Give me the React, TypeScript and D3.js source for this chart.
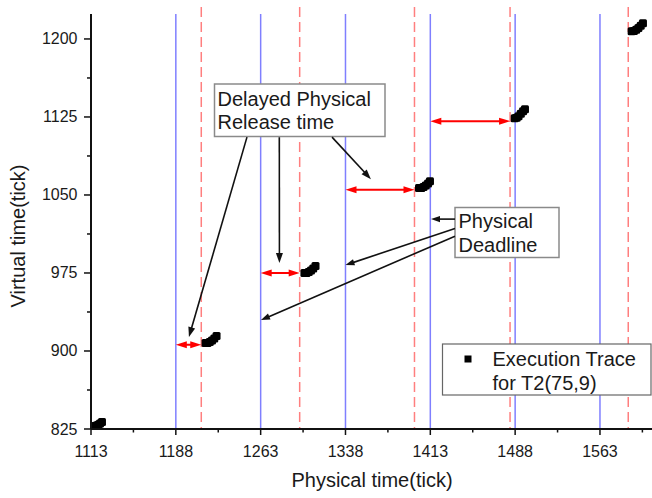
import React from "react";
import * as d3 from "d3";

// ---- data ----
const xTicks = [1113, 1188, 1263, 1338, 1413, 1488, 1563];
const xMinorTicks = [1150.5, 1225.5, 1300.5, 1375.5, 1450.5, 1525.5, 1600.5];
const yTicks = [825, 900, 975, 1050, 1125, 1200];
const yMinorTicks = [862.5, 937.5, 1012.5, 1087.5, 1162.5];

// blue solid lines (physical deadlines)
const physicalDeadlines = [1188, 1263, 1338, 1413, 1488, 1563];
// red dashed lines (delayed physical release times)
const delayedReleases = [1210.5, 1297.5, 1399, 1483.5, 1588];

// red double arrows: release delay at a virtual time level
const delayFrom = [1188, 1263, 1338, 1413];
const delayTo = [1210.5, 1297.5, 1399, 1483.5];
const delayLevel = [906, 975, 1055, 1121];

// execution trace of T2(75,9): [physical tick, virtual tick]
const trace1 = [[1116.5, 828], [1118, 828.3], [1119.5, 829], [1121, 830.3], [1122.7, 831.7]];
const trace2 = [[1214.3, 907.6], [1216, 907.8], [1218, 908.6], [1220, 910], [1222, 912], [1224, 914.4]];
const trace3 = [[1301.7, 974.9], [1303.5, 975.1], [1305.5, 975.9], [1307.5, 977.3], [1309.5, 979.3], [1311.5, 981.6]];
const trace4 = [[1403, 1056.6], [1405, 1056.8], [1407, 1057.6], [1409, 1059], [1411, 1061], [1412.7, 1063.3]];
const trace5 = [[1487.6, 1123.8], [1489.3, 1124.3], [1491, 1125.8], [1493, 1128], [1495, 1130.5], [1496.7, 1132.5]];
const trace6 = [[1591, 1207.4], [1593, 1207.7], [1595, 1208.8], [1597, 1210.6], [1599, 1212.8], [1601, 1215.1]];
const traces = [trace1, trace2, trace3, trace4, trace5, trace6];

// annotation arrows (data coordinates): from -> to
const releaseArrowFrom = [[1250.9, 1105.6], [1279.5, 1105.6], [1326.1, 1105.6]];
const releaseArrowTo = [[1199.6, 913.4], [1279.6, 984.5], [1360.5, 1065.2]];
const deadlineArrowFrom = [[1434.8, 1026.8], [1434.8, 1017.8], [1434.8, 1010.4]];
const deadlineArrowTo = [[1413.6, 1026.8], [1338, 982.6], [1263.3, 929.7]];

const W = 652;
const H = 498;
const M = { left: 91, right: 652, top: 14, bottom: 429 };

const x = d3.scaleLinear().domain([1113, 1609]).range([M.left, M.right]);
const y = d3.scaleLinear().domain([825, 1224]).range([M.bottom, M.top]);

const FONT = "'Liberation Sans', Arial, Helvetica, sans-serif";
const TEXT = "#1a1a1a";

function Arrow({ x1, y1, x2, y2, color, width = 1.6, len = 10, half = 3.5, both = false }: any) {
  const dx = x2 - x1, dy = y2 - y1;
  const L = Math.hypot(dx, dy) || 1;
  const ux = dx / L, uy = dy / L;
  const px = -uy, py = ux;
  const head = (tx: number, ty: number, sx: number, sy: number) => {
    const bx = tx - sx * len, by = ty - sy * len;
    return `M${tx},${ty}L${bx + px * half},${by + py * half}L${bx - px * half},${by - py * half}Z`;
  };
  const lx1 = both ? x1 + ux * (len * 0.6) : x1;
  const ly1 = both ? y1 + uy * (len * 0.6) : y1;
  return (
    <g>
      <line x1={lx1} y1={ly1} x2={x2 - ux * len * 0.6} y2={y2 - uy * len * 0.6} stroke={color} strokeWidth={width} />
      <path d={head(x2, y2, ux, uy)} fill={color} />
      {both && <path d={head(x1, y1, -ux, -uy)} fill={color} />}
    </g>
  );
}

export default function App() {
  const S = 8; // marker size
  return (
    <svg width={W} height={H} style={{ position: "fixed", left: 0, top: 0, background: "#fff" }} fontFamily={FONT}>
      <rect x={0} y={0} width={W} height={H} fill="#fff" />
      {/* blue deadline lines */}
      {physicalDeadlines.map((d) => (
        <line key={"b" + d} x1={x(d)} x2={x(d)} y1={M.top} y2={M.bottom} stroke="#7f7fff" strokeWidth={1.5} />
      ))}
      {/* red dashed lines */}
      {delayedReleases.map((d) => (
        <line key={"r" + d} x1={x(d)} x2={x(d)} y1={7} y2={M.bottom} stroke="#ff7f7f" strokeWidth={1.5} strokeDasharray="10,5" />
      ))}
      {/* red double arrows */}
      {delayLevel.map((v, i) => (
        <Arrow key={"da" + i} x1={x(delayFrom[i])} y1={y(v)} x2={x(delayTo[i])} y2={y(v)} color="#ff0000" width={2} len={11} half={3.5} both />
      ))}
      {/* execution traces */}
      {traces.map((t, i) => (
        <g key={"t" + i}>
          {t.map((p, j) => (
            <rect key={j} x={x(p[0]) - S / 2} y={y(p[1]) - S / 2} width={S} height={S} rx={1.5} fill="#000" />
          ))}
        </g>
      ))}
      {/* axes */}
      <g stroke="#111">
        <line x1={M.left} x2={M.right} y1={M.bottom} y2={M.bottom} strokeWidth={2} />
        <line x1={M.left} x2={M.left} y1={M.top} y2={M.bottom} strokeWidth={2} />
        {xTicks.map((t) => (
          <line key={"xt" + t} x1={x(t)} x2={x(t)} y1={M.bottom} y2={M.bottom + 6} strokeWidth={1.5} />
        ))}
        {xMinorTicks.map((t) => (
          <line key={"xm" + t} x1={x(t)} x2={x(t)} y1={M.bottom} y2={M.bottom + 3.5} strokeWidth={1.5} />
        ))}
        {yTicks.map((t) => (
          <line key={"yt" + t} x1={M.left - 7} x2={M.left} y1={y(t)} y2={y(t)} strokeWidth={1.5} />
        ))}
        {yMinorTicks.map((t) => (
          <line key={"ym" + t} x1={M.left - 4} x2={M.left} y1={y(t)} y2={y(t)} strokeWidth={1.5} />
        ))}
      </g>
      <g fill={TEXT} fontSize={16}>
        {xTicks.map((t) => (
          <text key={"xl" + t} x={x(t)} y={456.5} textAnchor="middle">{t}</text>
        ))}
        {yTicks.map((t) => (
          <text key={"yl" + t} x={77.5} y={y(t) + 5.5} textAnchor="end">{t}</text>
        ))}
      </g>
      <text x={372} y={487} textAnchor="middle" fontSize={20} fill={TEXT}>Physical time(tick)</text>
      <text transform="translate(25,236) rotate(-90)" textAnchor="middle" fontSize={20} fill={TEXT}>Virtual time(tick)</text>

      {/* annotation: Delayed Physical Release time */}
      <rect x={214.5} y={84} width={170.5} height={52.5} fill="#fff" stroke="#8a8a8a" strokeWidth={1.5} />
      <text x={217.5} y={106} fontSize={20} fill={TEXT}>Delayed Physical</text>
      <text x={217.5} y={129} fontSize={20} fill={TEXT}>Release time</text>
      {releaseArrowFrom.map((f, i) => (
        <Arrow key={"ra" + i} x1={x(f[0])} y1={y(f[1])} x2={x(releaseArrowTo[i][0])} y2={y(releaseArrowTo[i][1])} color="#111" width={1.6} len={10} half={3.5} />
      ))}

      {/* annotation: Physical Deadline */}
      <rect x={455} y={207.5} width={104} height={50} fill="#fff" stroke="#8a8a8a" strokeWidth={1.5} />
      <text x={458.5} y={228} fontSize={20} fill={TEXT}>Physical</text>
      <text x={458.5} y={251.5} fontSize={20} fill={TEXT}>Deadline</text>
      {deadlineArrowFrom.map((f, i) => (
        <Arrow key={"pa" + i} x1={x(f[0])} y1={y(f[1])} x2={x(deadlineArrowTo[i][0])} y2={y(deadlineArrowTo[i][1])} color="#111" width={1.6} len={9} half={3.2} />
      ))}

      {/* legend */}
      <rect x={442.5} y={344} width={208.5} height={51} fill="#fff" stroke="#666" strokeWidth={1.2} />
      <rect x={468 - 3.5} y={359 - 3.5} width={7} height={7} fill="#000" />
      <text x={492.5} y={366} fontSize={20} fill={TEXT}>Execution Trace</text>
      <text x={492.5} y={389.5} fontSize={20} fill={TEXT}>for T2(75,9)</text>
    </svg>
  );
}
